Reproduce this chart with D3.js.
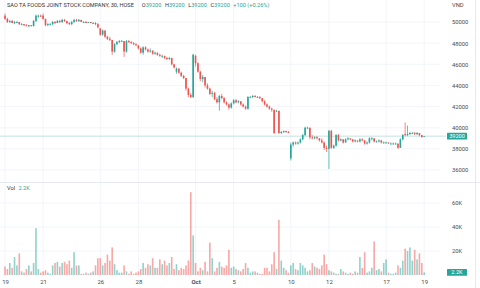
<!DOCTYPE html>
<html><head><meta charset="utf-8">
<script src="https://cdn.jsdelivr.net/npm/d3@7"></script>
<style>html,body{margin:0;padding:0;background:#fff;}svg{display:block;font-family:Roboto,"Liberation Sans",sans-serif;}</style>
</head><body><svg id="c" width="480" height="288"></svg>
<script>
const title = "SAO TA FOODS JOINT STOCK COMPANY, 30, HOSE";
const unitLabel = "VND";
const tradingDays = ["2022-09-19","2022-09-20","2022-09-21","2022-09-22","2022-09-23","2022-09-26","2022-09-27","2022-09-28","2022-09-29","2022-09-30","2022-10-03","2022-10-04","2022-10-05","2022-10-06","2022-10-07","2022-10-10","2022-10-11","2022-10-12","2022-10-13","2022-10-14","2022-10-17","2022-10-18","2022-10-19"];
const barsPerDay = [8,8,8,8,8,8,8,8,8,8,8,8,8,8,8,8,8,8,8,8,8,8,1];
const open = [
50600,50300,50000,50100,49900,50000,50000,49800,
49800,49700,49600,49700,49600,50100,50500,50600,
50600,50300,49700,49800,49800,50000,49900,50100,
50000,50200,50100,49900,49800,50000,50200,50100,
50200,50000,50000,49900,50000,49900,49900,49800,
49400,48800,49200,48600,48400,48300,47200,47900,
48100,48200,48200,47200,48200,48100,48000,47900,
47800,47500,47100,47600,47400,47200,47300,47000,
47100,46900,46800,46800,46600,46500,46600,46000,
45300,45600,45200,44900,44700,43700,43100,42900,
46800,46100,45300,44600,44800,44000,43700,43200,
43300,42700,42400,43000,42800,42400,42200,41900,
42300,42600,42400,42500,42200,42000,41800,42900,
42900,43000,42900,42900,42800,42500,42200,42000,
41800,41700,41600,41600,39500,39600,39700,39600,
37100,38400,38600,38500,38600,38900,39300,40000,
40000,39100,39000,39100,39000,38800,38600,38100,
38000,39700,38100,38300,39300,38800,38900,38600,
38900,39000,38900,38700,38800,38700,38900,38800,
38500,38600,39000,39000,38700,38700,38800,38600,
38600,38600,38500,38500,38500,38500,38100,38900,
39400,39300,39400,39500,39500,39400,39500,39300,
39200];
const high = [
50800,50400,50200,50200,50100,50100,50000,49900,
49800,49800,49700,49700,50200,50700,50700,50700,
50800,50300,49900,49900,50100,50100,50200,50200,
50300,50300,50100,50000,50100,50300,50300,50300,
50200,50100,50100,50000,50000,50000,50000,49900,
49400,49300,49200,48700,48600,48300,48000,48200,
48300,48300,48200,48300,48300,48200,48100,48000,
47800,47600,47700,47700,47500,47500,47300,47200,
47100,47000,46900,46800,46700,46700,46600,46000,
45700,45600,45300,45000,44700,43800,43300,47000,
46900,46200,45400,45000,44800,44200,43800,43500,
43400,42900,43100,43200,42900,42500,42300,42400,
42700,42700,42600,42500,42300,42100,43000,43000,
43100,43100,43000,43000,42800,42600,42300,42100,
41900,41700,41700,41600,39700,39700,39700,39700,
38600,38700,38700,38700,39000,39400,40100,40100,
40000,39300,39200,39200,39000,39000,38700,38300,
39800,39800,38400,39400,39400,39000,38900,39000,
39100,39000,38900,38900,38800,39000,39000,38800,
38700,39100,39100,39000,38800,38900,38800,38700,
38700,38600,38600,38600,38600,38500,39000,39400,
40500,40200,39600,39600,39600,39600,39500,39300,
39200];
const low = [
50200,49900,49900,49900,49800,49900,49700,49700,
49600,49600,49500,49600,49600,50000,50400,50500,
50200,49600,49600,49700,49700,49800,49900,49900,
49900,50000,49800,49700,49700,49900,50000,50000,
50000,49900,49900,49900,49900,49800,49700,49400,
48700,48700,48500,48300,48200,46900,47100,47800,
48000,48100,46700,47100,48000,47900,47800,47700,
47400,47000,46900,47300,47100,47100,46900,46900,
46800,46700,46600,46500,46400,46400,45900,45600,
45100,45100,44800,44600,43500,42900,42800,42800,
45800,45200,44400,44300,43800,43600,43100,42900,
42600,42300,41600,42700,42300,42100,41700,41800,
42200,42300,42300,42100,41900,41700,41700,42800,
42800,42900,42800,42700,42400,42100,41900,41700,
41500,39400,41500,39400,39400,39500,39500,39500,
36900,38200,38400,38400,38500,38800,39200,39900,
38900,38900,38900,38900,38700,38500,37900,37700,
36100,38000,38000,38200,38700,38700,38500,38600,
38800,38800,38600,38600,38600,38600,38700,38400,
38400,38500,38800,38600,38600,38600,38500,38500,
38500,38500,38400,38400,38400,38000,38100,38800,
39200,39200,39300,39400,39300,39300,39200,39100,
39200];
const close = [
50300,50000,50100,49900,50000,50000,49800,49800,
49700,49600,49700,49600,50100,50600,50600,50500,
50300,49700,49800,49800,50000,49900,50100,50000,
50200,50100,49900,49800,50000,50200,50100,50200,
50000,50000,49900,50000,49900,49900,49800,49500,
48800,49200,48600,48400,48300,47200,47900,48100,
48200,48200,47200,48200,48100,48000,47900,47800,
47500,47100,47600,47400,47200,47300,47000,47100,
46900,46800,46800,46600,46500,46600,46000,45700,
45600,45200,44900,44700,43700,43100,42900,46900,
46100,45300,44600,44800,44000,43700,43200,43300,
42700,42400,43000,42800,42400,42200,41900,42300,
42600,42400,42500,42200,42000,41800,42900,42900,
43000,42900,42900,42800,42500,42200,42000,41800,
41700,39500,41600,39500,39600,39700,39600,39500,
38400,38600,38500,38600,38900,39300,40000,40000,
39100,39000,39100,39000,38800,38600,38100,38000,
39700,38100,38300,39300,38800,38900,38600,38900,
39000,38900,38700,38800,38700,38900,38800,38500,
38600,39000,39000,38700,38700,38800,38600,38600,
38600,38500,38500,38500,38500,38100,38900,39300,
39300,39400,39500,39500,39400,39500,39300,39100,
39200];
const volumeK = [
7,5,10,6,15,8,18,3,
2,5,8,3,10,39,5,2,
3,4,2,1,8,10,11,7,
10,11,9,12,6,19,8,8,
1,1,2,1,2,3,8,14,
14,8,10,17,12,23,9,4,
2,2,8,3,1,3,1,2,
3,5,10,6,9,8,14,6,
6,13,9,12,8,10,15,5,
9,4,6,5,8,12,69,33,
10,3,6,4,11,3,27,14,
3,6,11,7,6,8,21,6,
7,5,4,3,5,10,6,2,
3,3,2,1,1,6,6,3,
9,19,5,46,12,6,4,2,
8,10,5,4,10,8,6,3,
4,10,7,6,5,8,17,9,
4,3,2,1,1,5,3,2,
1,2,1,3,2,15,6,19,
2,3,6,28,4,5,3,10,
13,2,1,1,2,8,6,12,
22,20,23,12,21,13,18,10,
2.2];
const priceTicks = [36000,38000,40000,42000,44000,46000,48000,50000];
const volumeTicksK = [20,40,60];
const tickDates = ["2022-09-19","2022-09-21","2022-09-26","2022-09-28","2022-10-03","2022-10-05","2022-10-10","2022-10-12","2022-10-17","2022-10-19"];
const tickLabels = ["19","21","26","28","Oct","5","10","12","17","19"];

const UP = "#26a69a", DOWN = "#ef5350";
const UPV = "rgba(38,166,154,0.5)", DOWNV = "rgba(239,83,80,0.5)";
const GRID = "#f0f3fa", TXT = "#4a4a4a";

const bars = [];
const dayFirst = {};
tradingDays.forEach((d, di) => {
  for (let k = 0; k < barsPerDay[di]; k++) {
    const i = bars.length;
    if (k === 0) dayFirst[d] = i;
    bars.push({i, day: d, o: open[i], h: high[i], l: low[i], c: close[i], v: volumeK[i]});
  }
});
const n = bars.length;
const last = bars[n - 1];

const svg = d3.select("#c");
const plotRight = 440;
const x = d3.scaleLinear().domain([0, n - 1]).range([5, 424.2]);
const step = x(1) - x(0);
const bw = step * 0.68;
const y = d3.scaleLinear().domain([36000, 50000]).range([170, 22]);
const yv = d3.scaleLinear().domain([0, 60]).range([275, 203]);
const tickIdx = tickDates.map(d => dayFirst[d]);

// grids
const g = svg.append("g");
g.selectAll(".hg").data(priceTicks).join("line")
  .attr("x1", 0).attr("x2", plotRight).attr("y1", d => y(d)).attr("y2", d => y(d))
  .attr("stroke", GRID).attr("stroke-width", 0.8);
g.selectAll(".vhg").data(volumeTicksK).join("line")
  .attr("x1", 0).attr("x2", plotRight).attr("y1", d => yv(d)).attr("y2", d => yv(d))
  .attr("stroke", GRID).attr("stroke-width", 0.8);
g.selectAll(".vg1").data(tickIdx).join("line")
  .attr("x1", d => x(d)).attr("x2", d => x(d)).attr("y1", 0).attr("y2", 182)
  .attr("stroke", GRID).attr("stroke-width", 0.8);
g.selectAll(".vg2").data(tickIdx).join("line")
  .attr("x1", d => x(d)).attr("x2", d => x(d)).attr("y1", 182).attr("y2", 277)
  .attr("stroke", GRID).attr("stroke-width", 0.8);

// separators
svg.append("line").attr("x1", 0).attr("x2", 480).attr("y1", 182.5).attr("y2", 182.5).attr("stroke", "#e0e3eb").attr("stroke-width", 0.8);
svg.append("line").attr("x1", 475.5).attr("x2", 475.5).attr("y1", 0).attr("y2", 288).attr("stroke", "#e0e3eb").attr("stroke-width", 0.8);

// last price line
svg.append("line").attr("x1", 0).attr("x2", plotRight + 6).attr("y1", y(last.c)).attr("y2", y(last.c))
  .attr("stroke", "#a8d8d2").attr("stroke-width", 0.7);

// volume bars
svg.append("g").selectAll("rect").data(bars).join("rect")
  .attr("x", d => x(d.i) - bw / 2).attr("width", bw)
  .attr("y", d => yv(d.v)).attr("height", d => yv(0) - yv(d.v))
  .attr("fill", d => d.c >= d.o ? UPV : DOWNV);

// candles
const cg = svg.append("g");
cg.selectAll("line").data(bars).join("line")
  .attr("x1", d => x(d.i)).attr("x2", d => x(d.i))
  .attr("y1", d => y(d.h)).attr("y2", d => y(d.l))
  .attr("stroke", d => d.c >= d.o ? UP : DOWN).attr("stroke-width", 0.7);
cg.selectAll("rect").data(bars).join("rect")
  .attr("x", d => x(d.i) - bw / 2).attr("width", bw)
  .attr("y", d => y(Math.max(d.o, d.c)))
  .attr("height", d => Math.max(0.8, Math.abs(y(d.o) - y(d.c))))
  .attr("fill", d => d.c >= d.o ? UP : DOWN);

// price axis
const pa = svg.append("g").attr("transform", `translate(${plotRight + 8},0)`)
  .call(d3.axisRight(y).tickValues(priceTicks).tickSize(0).tickPadding(4).tickFormat(d3.format("d")));
pa.select(".domain").remove();
pa.selectAll("text").attr("fill", TXT).style("font-size", "5.8px").style("font-family", "Roboto,sans-serif");

const va = svg.append("g").attr("transform", `translate(${plotRight + 8},0)`)
  .call(d3.axisRight(yv).tickValues(volumeTicksK).tickSize(0).tickPadding(4).tickFormat(d => d + "K"));
va.select(".domain").remove();
va.selectAll("text").attr("fill", TXT).style("font-size", "5.8px").style("font-family", "Roboto,sans-serif");

svg.append("text").attr("x", plotRight + 12).attr("y", 7).text(unitLabel)
  .attr("fill", TXT).style("font-size", "5.8px");

// time axis
const ta = svg.append("g").attr("transform", "translate(0,277)")
  .call(d3.axisBottom(x).tickValues(tickIdx).tickSize(0).tickPadding(3).tickFormat((d, i) => tickLabels[i]));
ta.select(".domain").remove();
ta.selectAll("text").attr("fill", TXT).style("font-size", "6px").style("font-family", "Roboto,sans-serif")
  .style("font-weight", (d, i) => tickLabels[i] === "Oct" ? "bold" : "normal");

// last value badges
const badge = (yy, label) => {
  const bg = svg.append("g");
  bg.append("rect").attr("x", plotRight + 7).attr("y", yy - 3.4).attr("width", 20).attr("height", 6.8).attr("fill", UP).attr("rx", 0.6);
  bg.append("text").attr("x", plotRight + 17).attr("y", yy).attr("dy", "0.35em").attr("text-anchor", "middle")
    .attr("fill", "#fff").style("font-size", "5.6px").text(label);
};
badge(y(last.c), d3.format("d")(last.c));
badge(yv(last.v), last.v + "K");

// header
const prev = bars[n - 2].c;
const chg = last.c - prev;
const ht = svg.append("text").attr("x", 7).attr("y", 7.4).style("font-size", "5.6px").attr("fill", "#333");
ht.append("tspan").text(title);
[["O", last.o], ["H", last.h], ["L", last.l], ["C", last.c]].forEach(([k, v], i) => {
  ht.append("tspan").text(k).attr("fill", "#333").attr("dx", i === 0 ? 8 : 3.5);
  ht.append("tspan").text(v).attr("fill", UP);
});
ht.append("tspan").attr("dx", 3.5).text(`+${chg} (+${(chg / prev * 100).toFixed(2)}%)`).attr("fill", UP);

const vt = svg.append("text").attr("x", 7).attr("y", 190).style("font-size", "5.6px");
vt.append("tspan").text("Vol").attr("fill", "#333");
vt.append("tspan").attr("dx", 3.5).text(last.v + "K").attr("fill", UP);
</script></body></html>
